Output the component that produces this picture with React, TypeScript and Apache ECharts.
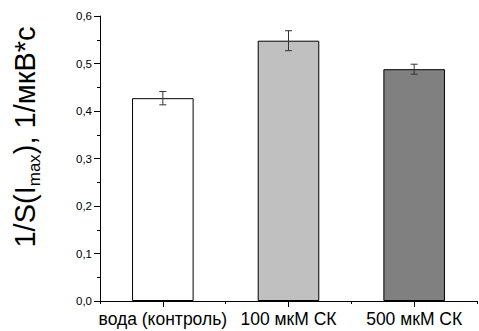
import React, { useEffect, useRef } from "react";
import * as echarts from "echarts";

const categories = ["вода (контроль)", "100 мкМ СК", "500 мкМ СК"];
const values = [0.427, 0.548, 0.488];
const errors = [0.014, 0.021, 0.0105];
const barColors = ["#ffffff", "#c0c0c0", "#808080"];
const yTicks = { min: 0, max: 0.6, interval: 0.1 };

const FONT = "Arial";

export default function App() {
  const ref = useRef<HTMLDivElement>(null);
  useEffect(() => {
    if (!ref.current) return;
    const chart = echarts.init(ref.current, undefined, { renderer: "svg" });
    const option: any = {
      animation: false,
      backgroundColor: "#ffffff",
      textStyle: { fontFamily: FONT },
      grid: { left: 100, right: 2, top: 16, bottom: 30, containLabel: false },
      xAxis: [
        {
          type: "category",
          data: categories,
          boundaryGap: true,
          axisLine: { show: true, onZero: false, lineStyle: { color: "#000", width: 1 } },
          axisTick: { show: true, alignWithLabel: true, length: 6, lineStyle: { color: "#000" } },
          axisLabel: { color: "#000", fontSize: 17.5, fontFamily: FONT, margin: 9, interval: 0 },
          splitLine: { show: false },
        },
        {
          type: "value",
          min: 0,
          max: 3,
          interval: 1,
          position: "bottom",
          axisLine: { show: false, onZero: false },
          axisTick: { show: true, length: 3, lineStyle: { color: "#000" } },
          axisLabel: { show: false },
          splitLine: { show: false },
        },
      ],
      yAxis: {
        type: "value",
        min: yTicks.min,
        max: yTicks.max,
        interval: yTicks.interval,
        axisLine: { show: true, lineStyle: { color: "#000", width: 1 } },
        axisTick: { show: true, length: 6, lineStyle: { color: "#000" } },
        minorTick: { show: true, splitNumber: 2, length: 3, lineStyle: { color: "#000" } },
        axisLabel: {
          color: "#000",
          fontSize: 11.5,
          fontFamily: FONT,
          margin: 8,
          formatter: (v: number) => v.toFixed(1).replace(".", ","),
        },
        splitLine: { show: false },
      },
      graphic: [
        {
          type: "text",
          x: 25,
          y: 137,
          rotation: Math.PI / 2,
          style: {
            text: "{a|1/S(I}{s|max}{a|), 1/мкВ*с}",
            align: "center",
            verticalAlign: "middle",
            fill: "#000",
            rich: {
              a: { fontSize: 29, fontFamily: FONT, fill: "#000", lineHeight: 32 },
              s: { fontSize: 17, fontFamily: FONT, fill: "#000", padding: [18, 0, 0, 0] },
            },
          },
        },
      ],
      series: [
        {
          type: "bar",
          xAxisIndex: 0,
          barWidth: "49%",
          data: values.map((v, i) => ({
            value: v,
            itemStyle: { color: barColors[i], borderColor: "#000", borderWidth: 1 },
          })),
        },
        {
          type: "custom",
          xAxisIndex: 0,
          z: 10,
          data: values.map((v, i) => [i, v, errors[i]]),
          renderItem: (params: any, api: any) => {
            const i = api.value(0);
            const v = api.value(1);
            const e = api.value(2);
            const top = api.coord([i, v + e]);
            const bot = api.coord([i, v - e]);
            const hw = 3.5;
            const style = { stroke: "#333", lineWidth: 1 };
            return {
              type: "group",
              children: [
                { type: "line", shape: { x1: top[0], y1: top[1], x2: bot[0], y2: bot[1] }, style },
                { type: "line", shape: { x1: top[0] - hw, y1: top[1], x2: top[0] + hw, y2: top[1] }, style },
                { type: "line", shape: { x1: bot[0] - hw, y1: bot[1], x2: bot[0] + hw, y2: bot[1] }, style },
              ],
            };
          },
        },
      ],
    };
    chart.setOption(option);
    return () => chart.dispose();
  }, []);
  return (
    <div style={{ position: "absolute", left: 0, top: 0 }}>
      <div ref={ref} style={{ width: 479, height: 331 }} />
    </div>
  );
}
